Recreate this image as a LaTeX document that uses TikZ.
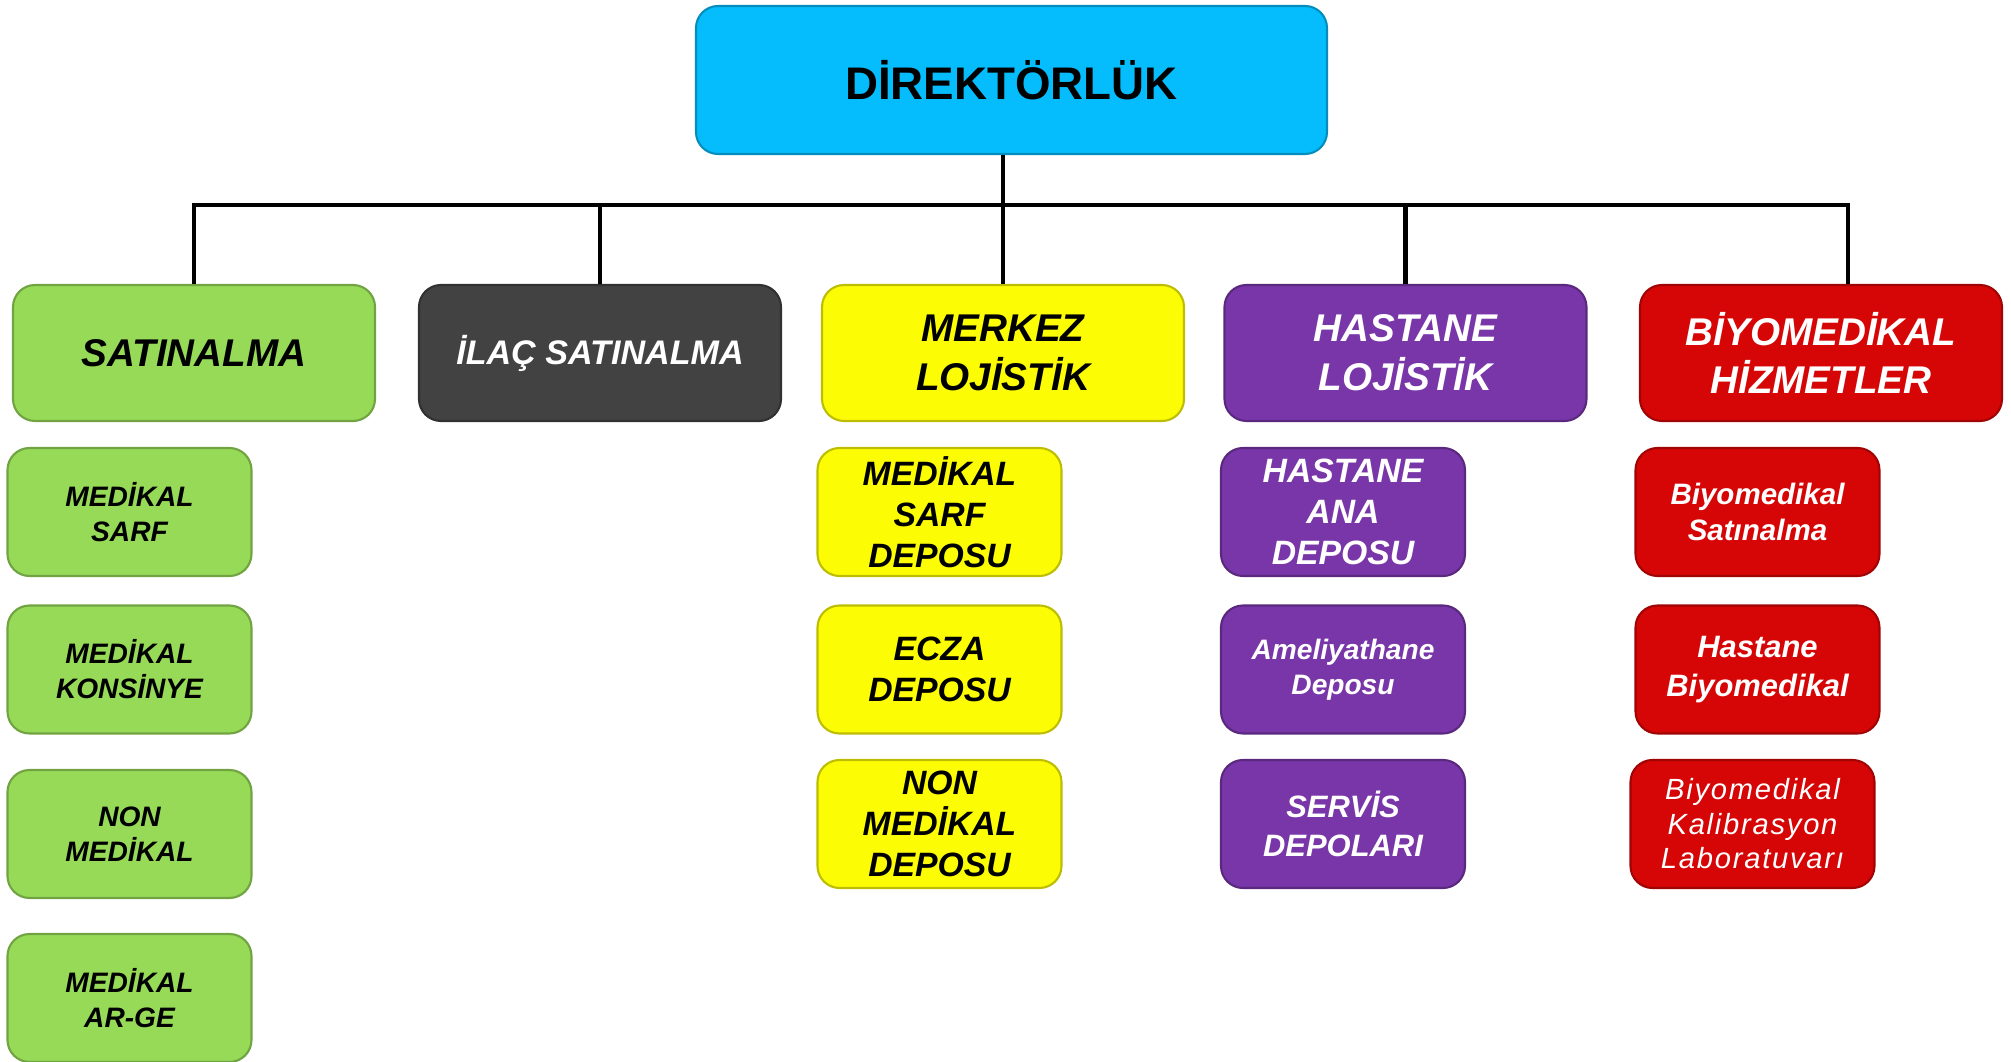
\documentclass[tikz,border=0pt]{standalone}
\usepackage{fontspec}
\setmainfont{Liberation Sans}
\newfontfamily\spacedfont{Liberation Sans}[LetterSpace=6]
\usetikzlibrary{positioning}
\definecolor{dirblue}{RGB}{5,188,252}
\definecolor{satgreen}{RGB}{150,218,88}
\definecolor{ilacgray}{RGB}{66,66,66}
\definecolor{lojyellow}{RGB}{252,252,5}
\definecolor{hastpurple}{RGB}{120,54,168}
\definecolor{biyored}{RGB}{214,6,6}

\begin{document}
\begin{tikzpicture}[
  box/.style={draw=#1!75!black, fill=#1, line width=0.6pt, rounded corners=2.2mm, align=center, inner sep=0pt},
  head/.style={minimum width=36.2mm, minimum height=13.6mm, font=\fontsize{11}{13.9}\selectfont\bfseries\itshape},
  unit/.style={minimum width=24.4mm, minimum height=12.8mm, font=\fontsize{9.6}{11.6}\selectfont\bfseries\itshape},
  small/.style={font=\fontsize{8}{9.9}\selectfont\bfseries\itshape},
  conn/.style={line width=1.2pt}
]
\useasboundingbox (0,0) rectangle (20.11,10.62);

% Top
\node[box=dirblue, minimum width=63.1mm, minimum height=14.8mm, font=\fontsize{13}{15}\selectfont\bfseries] (dir) at (10.115,9.82) {DİREKTÖRLÜK};

% Departments
\node[box=satgreen, head] (sat) at (1.94,7.09) {SATINALMA};
\node[box=ilacgray, head, text=white, font=\fontsize{9.7}{12}\selectfont\bfseries\itshape] (ilac) at (6.00,7.09) {İLAÇ SATINALMA};
\node[box=lojyellow, head] (merkez) at (10.03,7.09) {MERKEZ\\LOJİSTİK};
\node[box=hastpurple, head, text=white] (hastane) at (14.055,7.09) {HASTANE\\LOJİSTİK};
\node[box=biyored, head, text=white] (biyo) at (18.21,7.09) {BİYOMEDİKAL\\HİZMETLER};

% Connectors
\coordinate (bus) at (10.03,8.57);
\draw[conn] (sat.north) |- (bus) -| ([xshift=2.7mm]biyo.north);
\draw[conn] (ilac.north) -- (ilac.north |- bus);
\draw[conn] (hastane.north) -- (hastane.north |- bus);
\draw[conn] (dir.south -| merkez.north) -- (merkez.north);

% Satinalma units
\node[box=satgreen, unit, small] (sarf) at (1.295,5.50) {MEDİKAL\\SARF};
\node[box=satgreen, unit, small] (konsinye) at (1.295,3.925) {MEDİKAL\\KONSİNYE};
\node[box=satgreen, unit, small] (nonmed) at (1.295,2.28) {NON\\MEDİKAL};
\node[box=satgreen, unit, small] (arge) at (1.295,0.64) {MEDİKAL\\AR-GE};

% Merkez lojistik units
\node[box=lojyellow, unit] (sarfdepo) at (9.395,5.50) {MEDİKAL\\SARF\\DEPOSU};
\node[box=lojyellow, unit] (ecza) at (9.395,3.925) {ECZA\\DEPOSU};
\node[box=lojyellow, unit] (nondepo) at (9.395,2.38) {NON\\MEDİKAL\\DEPOSU};

% Hastane lojistik units
\node[box=hastpurple, unit, text=white] (anadepo) at (13.43,5.50) {HASTANE\\ANA\\DEPOSU};
\node[box=hastpurple, unit, small, text=white] (ameliyat) at (13.43,3.925) {Ameliyathane\\Deposu};
\node[box=hastpurple, unit, text=white, font=\fontsize{8.8}{10.9}\selectfont\bfseries\itshape] (servis) at (13.43,2.38) {SERVİS\\DEPOLARI};

% Biyomedikal units
\node[box=biyored, unit, text=white, font=\fontsize{8.4}{10.2}\selectfont\bfseries\itshape] (biyosat) at (17.575,5.50) {Biyomedikal\\Satınalma};
\node[box=biyored, unit, text=white, font=\fontsize{8.8}{10.9}\selectfont\bfseries\itshape] (biyohast) at (17.575,3.925) {Hastane\\Biyomedikal};
\node[box=biyored, unit, text=white, font=\fontsize{8.3}{9.8}\selectfont\spacedfont\itshape] (kalib) at (17.525,2.38) {Biyomedikal\\Kalibrasyon\\Laboratuvarı};
\end{tikzpicture}
\end{document}
